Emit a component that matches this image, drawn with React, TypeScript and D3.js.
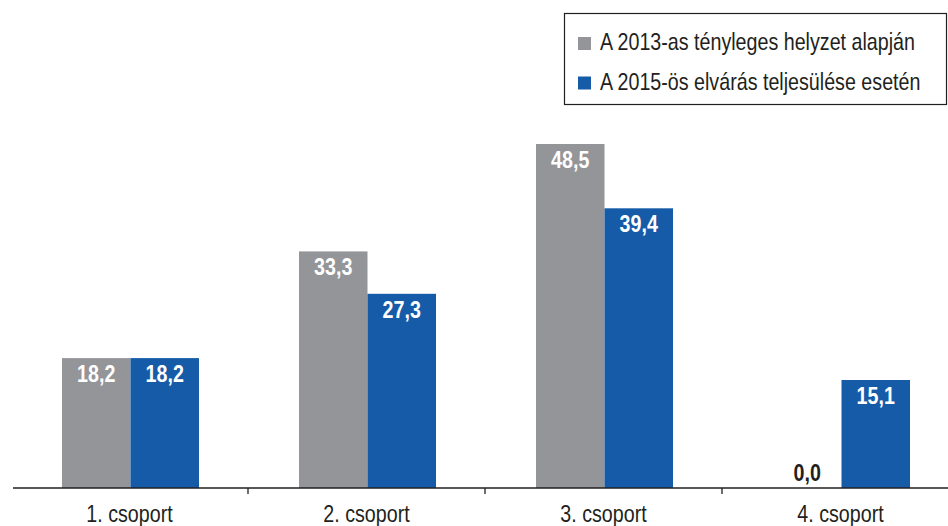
import React from "react";
import * as d3 from "d3";

const categories = ["1. csoport", "2. csoport", "3. csoport", "4. csoport"];
const seriesNames = ["A 2013-as tényleges helyzet alapján", "A 2015-ös elvárás teljesülése esetén"];
const series2013 = [18.2, 33.3, 48.5, 0.0];
const series2015 = [18.2, 27.3, 39.4, 15.1];
const colors = ["#939598", "#155ba8"];

const W = 948;
const H = 526;
const FONT = "'Liberation Sans', Arial, sans-serif";
const NARROW = 0.82;

function NText(props: {
  x: number;
  y: number;
  size: number;
  anchor?: string;
  bold?: boolean;
  fill: string;
  children: React.ReactNode;
}) {
  return (
    <text
      transform={`translate(${props.x},${props.y}) scale(${NARROW},1)`}
      textAnchor={props.anchor || "start"}
      fontSize={props.size}
      fontWeight={props.bold ? "bold" : "normal"}
      fill={props.fill}
    >
      {props.children}
    </text>
  );
}

export default function App() {
  const baseY = 488;
  const x0 = d3.scaleBand<string>().domain(categories).range([11, 959]).padding(0);
  const x1 = d3.scaleBand<string>().domain(seriesNames).range([51, 188]).padding(0);
  const y = d3.scaleLinear().domain([0, 68.88]).range([486.7, 0]);
  const data = [series2013, series2015];
  const fmt = (v: number) => d3.format(".1f")(v).replace(".", ",");

  return (
    <svg width={W} height={H} style={{ position: "absolute", left: 0, top: 0, background: "#fff" }} fontFamily={FONT}>
      {categories.map((c, i) => (
        <g key={c} transform={`translate(${x0(c)},0)`}>
          {seriesNames.map((s, j) => {
            const v = data[j][i];
            const bx = x1(s)!;
            const bw = x1.bandwidth();
            const top = y(v);
            const inside = v > 3;
            return (
              <g key={s}>
                {v > 0 && <rect x={bx} y={top} width={bw} height={baseY - top} fill={colors[j]} />}
                <NText
                  x={bx + bw / 2}
                  y={inside ? top + 24 : baseY - 7}
                  anchor="middle"
                  bold
                  size={24}
                  fill={inside ? "#fff" : "#231f20"}
                >
                  {fmt(v)}
                </NText>
              </g>
            );
          })}
          <NText x={x0.bandwidth() / 2} y={522} anchor="middle" size={24} fill="#231f20">
            {c}
          </NText>
        </g>
      ))}
      <line x1={13} x2={948} y1={baseY} y2={baseY} stroke="#231f20" strokeWidth={1.3} />
      {categories.slice(1).map((c) => (
        <line key={c} x1={x0(c)} x2={x0(c)} y1={baseY} y2={baseY + 6} stroke="#231f20" strokeWidth={1.3} />
      ))}
      <g>
        <rect x={564.5} y={13.5} width={382} height={91} fill="#fff" stroke="#231f20" strokeWidth={1.2} />
        {seriesNames.map((s, j) => (
          <g key={s} transform={`translate(0,${j * 39.5})`}>
            <rect x={578} y={37} width={13} height={13} fill={colors[j]} />
            <NText x={600} y={50} size={24} fill="#231f20">
              {s}
            </NText>
          </g>
        ))}
      </g>
    </svg>
  );
}
